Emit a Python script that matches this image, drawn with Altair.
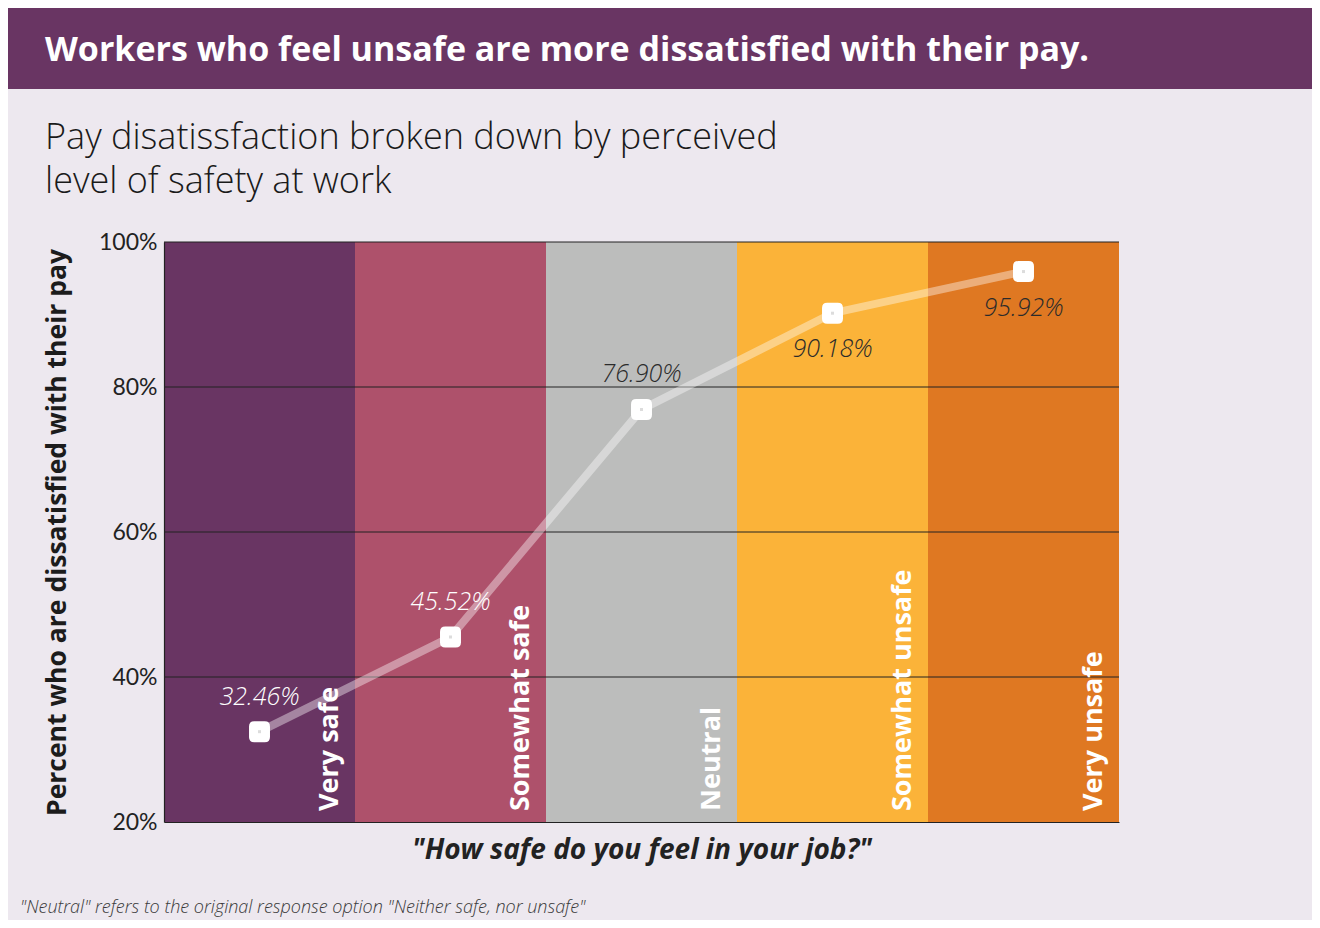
import altair as alt
import pandas as pd

# ---- data ----
categories = ["Very safe", "Somewhat safe", "Neutral", "Somewhat unsafe", "Very unsafe"]
pct_dissatisfied = [32.46, 45.52, 76.90, 90.18, 95.92]
band_colors = ["#693563", "#AE516B", "#BCBDBC", "#FBB339", "#DF7822"]
y_ticks = [20, 40, 60, 80, 100]
grid_values = [40, 60, 80, 100]

TITLE = "Workers who feel unsafe are more dissatisfied with their pay."
SUBTITLE = "Pay disatissfaction broken down by perceived\nlevel of safety at work"
Y_TITLE = "Percent who are dissatisfied with their pay"
X_TITLE = '"How safe do you feel in your job?"'
NOTE = '"Neutral" refers to the original response option "Neither safe, nor unsafe"'

W, H = 955, 580
PAD = {"left": 156, "top": 234, "right": 193, "bottom": 98}

BG = "#EDE8EF"
HEADER = "#693563"
DARK = "#222222"

df = pd.DataFrame({"cat": categories, "value": pct_dissatisfied})
grid_df = pd.DataFrame({"value": grid_values})

X_ENC = alt.X(
    "cat:N",
    sort=categories,
    scale=alt.Scale(paddingInner=0, paddingOuter=0),
    axis=alt.Axis(
        labels=False, ticks=False, title=X_TITLE, titleFont="Open Sans",
        titleFontSize=28, titleFontWeight="bold", titleFontStyle="italic",
        titleColor=DARK, titlePadding=14, domainColor=DARK, domainWidth=1.2,
        zindex=1,
    ),
)
Y_SCALE = alt.Scale(domain=[20, 100], nice=False, zero=False)
Y_AXIS = alt.Axis(
    values=y_ticks, labelExpr="datum.value + '%'", grid=False, ticks=False,
    labelFont="Lato", labelFontSize=23, labelColor=DARK, labelPadding=7,
    title=Y_TITLE, titleFont="Open Sans", titleFontSize=26.5, titleFontWeight="bold",
    titleColor="#1c1c1c", titlePadding=27, domainColor=DARK, domainWidth=1.2,
    zindex=1,
)
Y_ENC = alt.Y("value:Q", scale=Y_SCALE, axis=Y_AXIS)

ROUNDED = ("M -0.5,-1 L 0.5,-1 Q 1,-1 1,-0.5 L 1,0.5 Q 1,1 0.5,1 "
           "L -0.5,1 Q -1,1 -1,0.5 L -1,-0.5 Q -1,-1 -0.5,-1 Z")

base = alt.Chart(df)

header = alt.Chart(pd.DataFrame({"a": [0]})).mark_rect(color=HEADER).encode(
    x=alt.value(-PAD["left"]), x2=alt.value(W + PAD["right"]),
    y=alt.value(-PAD["top"]), y2=alt.value(-153),
)

bands = base.mark_rect().encode(
    x=X_ENC,
    y=alt.datum(100, scale=Y_SCALE, axis=Y_AXIS, type="quantitative"),
    y2=alt.datum(20),
    color=alt.Color("cat:N", scale=alt.Scale(domain=categories, range=band_colors), legend=None),
)

grid = alt.Chart(grid_df).mark_rule(color=DARK, strokeWidth=1).encode(y=Y_ENC)

line = base.mark_line(color="white", opacity=0.4, strokeWidth=8, strokeCap="round").encode(
    x=X_ENC, y=Y_ENC
)

points = base.mark_point(shape=ROUNDED, size=440, filled=True, fill="white",
                         opacity=1, strokeWidth=0).encode(x=X_ENC, y=Y_ENC)

point_dots = base.mark_point(shape="square", size=9, filled=True, fill="#dcdcdc",
                             opacity=1, strokeWidth=0).encode(x=X_ENC, y=Y_ENC)

label_common = dict(font="Open Sans", fontSize=25, fontStyle="italic", fontWeight=300)
labels_above = base.transform_filter("datum.value < 85").transform_calculate(
    lab="format(datum.value, '.2f') + '%'"
).mark_text(dy=-35, **label_common).encode(
    x=X_ENC, y=Y_ENC, text="lab:N",
    color=alt.condition("datum.value < 50", alt.value("white"), alt.value("#2b2b2b")),
)
labels_below = base.transform_filter("datum.value >= 85").transform_calculate(
    lab="format(datum.value, '.2f') + '%'"
).mark_text(dy=36, color="#2b2b2b", **label_common).encode(
    x=X_ENC, y=Y_ENC, text="lab:N",
)

cat_labels = base.mark_text(
    angle=270, align="left", baseline="alphabetic", dy=78,
    font="Open Sans", fontSize=27, fontWeight="bold", color="white",
).encode(x=X_ENC, y=alt.value(H - 11), text="cat:N")

title_txt = alt.Chart(pd.DataFrame({"t": [TITLE]})).mark_text(
    align="left", baseline="middle", font="Open Sans", fontSize=34,
    fontWeight="bold", color="white",
).encode(text="t:N", x=alt.value(-119), y=alt.value(-191))

subtitle_txt = alt.Chart(pd.DataFrame({"t": [SUBTITLE]})).mark_text(
    align="left", baseline="middle", font="Open Sans", fontSize=36, fontWeight=300,
    color="#1a1a1a", lineBreak="\n", lineHeight=44,
).encode(text="t:N", x=alt.value(-119), y=alt.value(-104))

note_txt = alt.Chart(pd.DataFrame({"t": [NOTE]})).mark_text(
    align="left", baseline="middle", font="Open Sans", fontSize=18, fontStyle="italic",
    fontWeight=300, color="#3a3a3a",
).encode(text="t:N", x=alt.value(-144), y=alt.value(666))

chart = alt.layer(
    header, bands, grid, line, points, point_dots, labels_above, labels_below,
    cat_labels, title_txt, subtitle_txt, note_txt,
).properties(
    width=W, height=H, padding=PAD, autosize=alt.AutoSizeParams(type="none"),
).configure(background=BG).configure_view(strokeWidth=0)

chart.save("out.html", embed_options={"renderer": "svg", "actions": False})
